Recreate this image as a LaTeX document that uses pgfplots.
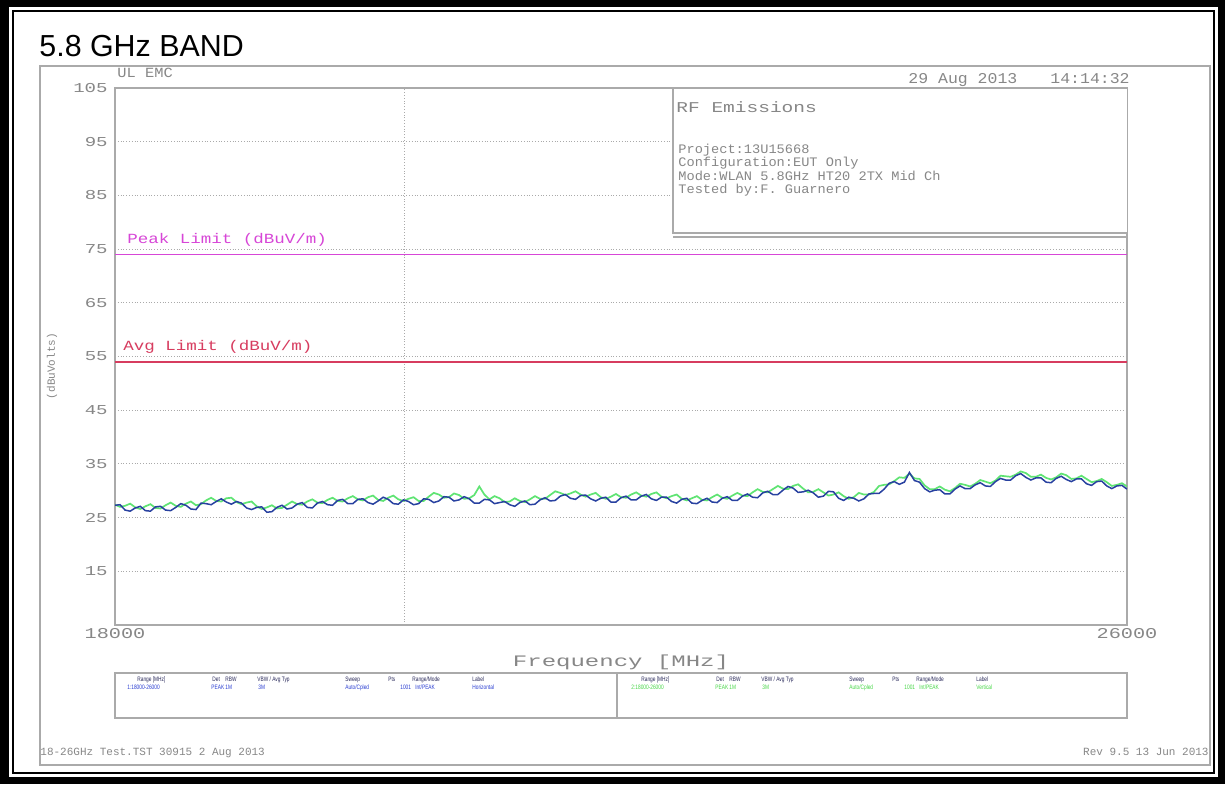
\documentclass[border=0pt]{standalone}
\usepackage{fontspec}
\setmainfont{Liberation Sans}
\newfontfamily\pf{Liberation Mono}
\usepackage{pgfplots}
\usepackage{pgfplotstable}
\pgfplotsset{compat=1.18}
\definecolor{tg}{RGB}{135,135,135}
\definecolor{gl}{RGB}{170,170,170}
\definecolor{tb}{RGB}{40,65,160}
\definecolor{tgr}{RGB}{95,228,115}
\definecolor{pk}{RGB}{215,70,215}
\definecolor{av}{RGB}{215,60,95}
\definecolor{lb}{RGB}{40,60,210}
\definecolor{lg}{RGB}{70,215,70}
\definecolor{hd}{RGB}{40,40,90}

\pgfplotstableread{
f blue green
18000 27.3 27.4
18040 27.4 27.0
18080 26.4 27.2
18120 26.2 27.6
18160 26.8 26.9
18200 27.1 26.6
18240 26.3 27.1
18280 26.2 27.5
18320 27.0 26.8
18360 27.1 26.7
18400 26.4 27.3
18440 26.3 27.8
18480 26.9 27.2
18520 27.6 27.0
18560 27.3 27.6
18600 26.6 28.0
18640 26.5 27.3
18680 27.7 27.5
18720 27.6 28.2
18760 27.4 28.7
18800 28.0 28.1
18840 28.5 28.0
18880 27.9 28.6
18920 27.5 28.7
18960 28.0 27.9
19000 27.7 27.5
19040 26.8 27.8
19080 26.5 28.0
19120 26.9 27.1
19160 27.0 26.6
19200 26.0 26.9
19240 26.1 27.3
19280 26.9 26.7
19320 27.3 26.8
19360 26.6 27.4
19400 26.8 28.0
19440 27.5 27.5
19480 27.8 27.4
19520 26.9 28.0
19560 26.8 28.4
19600 27.7 27.8
19640 28.0 27.7
19680 27.4 28.3
19720 27.3 28.7
19760 28.2 28.1
19800 28.4 28.0
19840 27.6 28.6
19880 27.6 29.0
19920 28.4 28.4
19960 28.5 28.2
20000 27.8 28.8
20040 27.5 29.1
20080 28.1 28.3
20120 28.8 28.1
20160 28.4 28.7
20200 27.6 29.1
20240 27.5 28.4
20280 28.3 28.1
20320 28.0 28.5
20360 27.4 28.8
20400 27.6 28.1
20440 28.5 28.1
20480 28.4 28.9
20520 27.8 29.6
20560 28.1 29.3
20600 28.9 28.7
20640 28.8 28.8
20680 28.1 29.5
20720 28.3 29.2
20760 28.9 28.5
20800 28.5 28.6
20840 27.7 29.2
20880 27.7 30.8
20920 28.4 29.3
20960 28.3 28.4
21000 27.6 29.0
21040 27.8 28.6
21080 28.0 27.9
21120 27.4 28.0
21160 27.1 28.6
21200 27.8 28.1
21240 28.1 27.9
21280 27.4 28.4
21320 27.5 29.0
21360 28.3 28.5
21400 28.7 28.5
21440 28.1 29.2
21480 28.2 29.9
21520 29.0 29.6
21560 29.3 29.2
21600 28.6 29.5
21640 28.4 29.9
21680 29.1 29.3
21720 29.2 28.9
21760 28.5 29.3
21800 28.1 29.6
21840 28.6 28.8
21880 28.8 28.5
21920 27.9 28.9
21960 27.9 29.4
22000 28.7 28.8
22040 29.0 28.7
22080 28.3 29.3
22120 28.3 29.7
22160 29.0 29.1
22200 29.3 28.9
22240 28.5 29.4
22280 28.2 29.7
22320 28.8 28.9
22360 28.8 28.6
22400 28.0 29.0
22440 27.7 29.3
22480 28.4 28.5
22520 28.6 28.2
22560 27.7 28.6
22600 27.6 29.0
22640 28.2 28.3
22680 28.6 28.2
22720 27.9 28.8
22760 27.8 29.3
22800 28.6 28.7
22840 28.9 28.5
22880 28.2 29.1
22920 28.2 29.6
22960 29.0 29.1
23000 29.4 29.0
23040 28.8 29.7
23080 28.7 30.3
23120 29.6 29.8
23160 29.9 29.7
23200 29.3 30.3
23240 29.3 30.9
23280 30.1 30.4
23320 30.8 30.3
23360 30.5 30.9
23400 29.7 31.2
23440 29.8 30.4
23480 30.1 29.7
23520 29.6 29.8
23560 28.8 30.3
23600 29.0 29.7
23640 29.9 29.1
23680 29.8 29.3
23720 28.6 29.7
23760 28.2 29.0
23800 28.8 28.5
23840 28.6 28.8
23880 28.1 29.6
23920 28.5 29.3
23960 29.4 29.3
24000 29.5 29.8
24040 29.5 30.9
24080 30.3 31.1
24120 31.4 31.2
24160 31.7 31.8
24200 31.2 32.5
24240 31.6 32.4
24280 33.4 33.2
24320 31.9 32.3
24360 31.6 32.2
24400 30.4 31.0
24440 29.8 30.3
24480 30.1 30.3
24520 30.2 30.8
24560 29.4 30.2
24600 29.4 29.9
24640 30.3 30.5
24680 30.9 31.3
24720 30.4 31.1
24760 30.4 30.8
24800 31.1 31.3
24840 31.5 32.0
24880 30.9 31.7
24920 30.8 31.4
24960 31.7 31.9
25000 32.3 32.8
25040 32.0 32.7
25080 32.0 32.6
25120 32.8 33.0
25160 33.2 33.6
25200 32.5 33.3
25240 32.0 32.6
25280 32.4 32.6
25320 32.4 33.0
25360 31.6 32.4
25400 31.5 32.1
25440 32.3 32.5
25480 32.7 33.2
25520 32.1 32.9
25560 31.7 32.2
25600 32.2 32.3
25640 32.2 32.8
25680 31.3 32.2
25720 31.0 31.6
25760 31.7 31.8
25800 31.8 32.2
25840 30.9 31.6
25880 30.4 30.9
25920 30.9 31.1
25960 31.0 31.4
26000 30.3 30.8
}\trace

\newcommand{\lgfont}{\fontsize{3.2}{3.2}\selectfont}
\newcommand{\lt}[1]{\scalebox{0.75}[1]{#1}}
\newcommand{\tk}[1]{\scalebox{1.4}[1]{#1}}

\begin{document}
\begin{tikzpicture}
\path[use as bounding box] (0,0) rectangle (612.5pt,392pt);
\begin{scope}[shift={(0pt,392pt)},x=0.5pt,y=-0.5pt]
  \fill[black] (0,0) rectangle (1225,784);
  \fill[white] (9,7) rectangle (1218,777);
  \fill[black] (12,10) rectangle (1215,774);
  \fill[white] (14,12) rectangle (1213,772);
  \draw[gl,line width=0.6pt] (40,66) rectangle (1210,765);
\end{scope}

\begin{axis}[
  at={(57.5pt,79.5pt)}, anchor=south west,
  scale only axis, width=506pt, height=268.5pt,
  xmin=18000, xmax=26000, ymin=5, ymax=105,
  axis line style={gl, line width=0.6pt},
  major tick length=0pt,
  scaled x ticks=false,
  ytick={15,25,35,45,55,65,75,85,95,105},
  yticklabels={\tk{15},\tk{25},\tk{35},\tk{45},\tk{55},\tk{65},\tk{75},\tk{85},\tk{95},\tk{105}},
  xtick={18000,26000},
  xticklabels={\scalebox{1.35}[1]{18000},\scalebox{1.35}[1]{26000}},
  yticklabel style={font=\pf\fontsize{6.8}{6.8}\selectfont, text=tg, anchor=east, inner sep=0pt, xshift=-3.5pt},
  xticklabel style={font=\pf\fontsize{7.5}{7.5}\selectfont, text=tg, anchor=north, inner sep=0pt, yshift=-1.5pt},
  ymajorgrids,
  grid style={gl, densely dotted, line width=0.5pt},
  extra x ticks={20290},
  extra x tick labels={},
  extra x tick style={grid=major},
  xlabel={\scalebox{1.5}[1]{Frequency [MHz]}},
  xlabel style={font=\pf\fontsize{8}{8}\selectfont, text=tg, at={(axis description cs:0.5,-0.069)}, anchor=center},
  ylabel={(dBuVolts)},
  ylabel style={font=\pf\fontsize{5.5}{5.5}\selectfont, text=tg, at={(axis description cs:-0.0623,0.482)}, anchor=center},
]
\addplot[pk, line width=0.7pt] coordinates {(18000,74) (26000,74)};
\addplot[av, line width=0.7pt] coordinates {(18000,54) (26000,54)};
\addplot[tgr, line width=0.85pt] table[x=f, y=green] {\trace};
\addplot[tb, line width=0.75pt] table[x=f, y=blue] {\trace};
\end{axis}

\begin{scope}[shift={(0pt,392pt)},x=0.5pt,y=-0.5pt]
  % title
  \node[anchor=base west, inner sep=0pt, font=\fontsize{15.2}{15.2}\selectfont] at (39,57) {5.8 GHz BAND};
  % top texts
  \node[anchor=base west, inner sep=0pt, text=tg, font=\pf\fontsize{7}{7}\selectfont] at (117,78) {\scalebox{1.1}[1]{UL EMC}};
  \node[anchor=base west, inner sep=0pt, text=tg, font=\pf\fontsize{7.5}{7.5}\selectfont] at (908,83) {\scalebox{1.1}[1]{29 Aug 2013}};
  \node[anchor=base west, inner sep=0pt, text=tg, font=\pf\fontsize{7.5}{7.5}\selectfont] at (1050,83) {\scalebox{1.1}[1]{14:14:32}};
  % RF box
  \fill[white] (673,89) rectangle (1126.5,233);
  \draw[gl, line width=0.6pt] (673,88) -- (673,233) -- (1127,233);
  \draw[gl, line width=0.6pt] (673,237) -- (1127,237);
  \node[anchor=base west, inner sep=0pt, text=tg, font=\pf\fontsize{7.5}{7.5}\selectfont] at (676,112) {\scalebox{1.3}[1]{RF Emissions}};
  \begin{scope}[every node/.style={anchor=base west, inner sep=0pt, text=tg, font=\pf\fontsize{6.5}{6.5}\selectfont}]
    \node at (678,153) {\scalebox{1.05}[1]{Project:13U15668}};
    \node at (678,166.5) {\scalebox{1.05}[1]{Configuration:EUT Only}};
    \node at (678,180) {\scalebox{1.05}[1]{Mode:WLAN 5.8GHz HT20 2TX Mid Ch}};
    \node at (678,193.5) {\scalebox{1.05}[1]{Tested by:F. Guarnero}};
  \end{scope}
  % limit labels
  \node[anchor=base west, inner sep=0pt, text=pk, font=\pf\fontsize{7}{7}\selectfont] at (127,243) {\scalebox{1.25}[1]{Peak Limit (dBuV/m)}};
  \node[anchor=base west, inner sep=0pt, text=av, font=\pf\fontsize{7}{7}\selectfont] at (123,350) {\scalebox{1.25}[1]{Avg Limit (dBuV/m)}};
  % legend box
  \draw[gl, line width=0.6pt] (115,673) rectangle (1127,718);
  \draw[gl, line width=0.6pt] (617,673) -- (617,718);
  \begin{scope}[every node/.style={anchor=base west, inner sep=0pt, font=\lgfont}]
    \foreach \o/\c/\r/\l in {0/lb/1/Horizontal, 504/lg/2/Vertical} {
      \node[text=hd] at (137+\o,681) {\lt{Range [MHz]}};
      \node[text=hd] at (212+\o,681) {\lt{Det}};
      \node[text=hd] at (225+\o,681) {\lt{RBW}};
      \node[text=hd] at (257+\o,681) {\lt{VBW / Avg Typ}};
      \node[text=hd] at (345+\o,681) {\lt{Sweep}};
      \node[text=hd] at (388+\o,681) {\lt{Pts}};
      \node[text=hd] at (412+\o,681) {\lt{Range/Mode}};
      \node[text=hd] at (472+\o,681) {\lt{Label}};
      \node[text=\c] at (127+\o,689) {\lt{\r:18000-26000}};
      \node[text=\c] at (211+\o,689) {\lt{PEAK}};
      \node[text=\c] at (225+\o,689) {\lt{1M}};
      \node[text=\c] at (258+\o,689) {\lt{3M}};
      \node[text=\c] at (345+\o,689) {\lt{Auto/Cpled}};
      \node[text=\c] at (400+\o,689) {\lt{1001}};
      \node[text=\c] at (415+\o,689) {\lt{Int/PEAK}};
      \node[text=\c] at (472+\o,689) {\lt{\l}};
    }
  \end{scope}
  % footer
  \node[anchor=base west, inner sep=0pt, text=tg, font=\pf\fontsize{5.5}{5.5}\selectfont] at (40,755) {18-26GHz Test.TST 30915  2 Aug 2013};
  \node[anchor=base east, inner sep=0pt, text=tg, font=\pf\fontsize{5.5}{5.5}\selectfont] at (1209,755) {Rev 9.5 13 Jun 2013};
\end{scope}
\end{tikzpicture}
\end{document}
